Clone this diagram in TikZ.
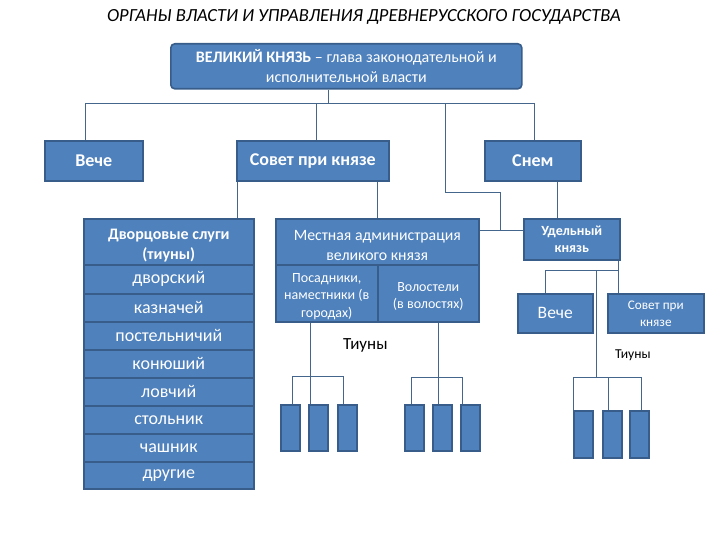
\documentclass[tikz,border=0pt]{standalone}
\usepackage{fontspec}
\setmainfont{Carlito}
\definecolor{boxfill}{HTML}{4F81BD}
\definecolor{boxline}{HTML}{385D8A}
\definecolor{wirecol}{HTML}{44668C}
\newcommand\mydown[1]{\rule{0pt}{#1}}
\begin{document}
\begin{tikzpicture}[x=1pt,y=-1pt,
  box/.style={draw=boxline, fill=boxfill, line width=1.6pt, text=white, inner sep=1pt, align=center, anchor=north west},
  wire/.style={draw=wirecol, line width=0.9pt},
  big/.style={font=\fontsize{18}{20}\selectfont},
  row/.style={font=\fontsize{18}{20}\selectfont},
  sml/.style={font=\fontsize{14}{17.5}\selectfont},
  tiun/.style={box, minimum width=19pt, minimum height=46pt}
]
\useasboundingbox (0,0) rectangle (720,540);
% title
\node[font=\fontsize{18.5}{20}\selectfont\itshape] (title) at (364,17) {ОРГАНЫ ВЛАСТИ И УПРАВЛЕНИЯ ДРЕВНЕРУССКОГО ГОСУДАРСТВА};
% top box
\node[box, rounded corners=4pt, minimum width=351pt, minimum height=45pt, font=\fontsize{16}{20}\selectfont] (vk) at (170,43) {\textbf{ВЕЛИКИЙ КНЯЗЬ} – глава законодательной и\\исполнительной власти};
% second level
\node[box, big, minimum width=98pt, minimum height=40pt] (veche) at (44,140) {\textbf{Вече}};
\node[box, big, minimum width=152pt, minimum height=40pt] (sovet) at (236,140) {\textbf{Совет при князе}};
\node[box, big, minimum width=96pt, minimum height=40pt] (snem) at (484,140) {\textbf{Снем}};
% palace servants table
\node[box, font=\fontsize{16}{20}\selectfont, minimum width=170pt, minimum height=46pt] (d0) at (83,218) {\mydown{18pt}\textbf{Дворцовые слуги}\\\textbf{(тиуны)}};
\node[box, row, minimum width=170pt, minimum height=29pt] (d1) at (83,264) {дворский};
\node[box, row, minimum width=170pt, minimum height=28pt] (d2) at (83,293) {казначей};
\node[box, row, minimum width=170pt, minimum height=28pt] (d3) at (83,321) {постельничий};
\node[box, row, minimum width=170pt, minimum height=28pt] (d4) at (83,349) {конюший};
\node[box, row, minimum width=170pt, minimum height=28pt] (d5) at (83,377) {ловчий};
\node[box, row, minimum width=170pt, minimum height=28pt] (d6) at (83,405) {стольник};
\node[box, row, minimum width=170pt, minimum height=28pt] (d7) at (83,433) {чашник};
\node[box, row, minimum width=170pt, minimum height=27pt] (d8) at (83,461) {другие};
% local administration table
\node[box, font=\fontsize{15.8}{20}\selectfont, minimum width=203pt, minimum height=46pt] (m0) at (275,218) {\mydown{17pt}Местная администрация\\великого князя};
\node[box, sml, minimum width=102pt, minimum height=57pt] (m1) at (275,264) {\mydown{15pt}Посадники,\\наместники (в\\городах)};
\node[box, sml, minimum width=101pt, minimum height=57pt] (m2) at (377,264) {\mydown{15pt}Волостели\\(в волостях)};
% appanage prince
\node[box, font=\fontsize{14}{17}\selectfont, minimum width=96pt, minimum height=41pt] (udel) at (523,218) {\textbf{Удельный}\\\textbf{князь}};
\node[box, font=\fontsize{17.5}{20}\selectfont, minimum width=75pt, minimum height=39pt] (veche2) at (517,293) {Вече};
\node[box, font=\fontsize{13.2}{17}\selectfont, minimum width=96pt, minimum height=39pt] (sovet2) at (607,293) {Совет при\\князе};
% tiuny boxes
\node[tiun] (t1) at (280,404) {};
\node[tiun] (t2) at (308,404) {};
\node[tiun] (t3) at (337,404) {};
\node[tiun] (t4) at (404,404) {};
\node[tiun] (t5) at (432,404) {};
\node[tiun] (t6) at (460,404) {};
\node[tiun, minimum height=47pt] (t7) at (573,410) {};
\node[tiun, minimum height=47pt] (t8) at (602,410) {};
\node[tiun, minimum height=47pt] (t9) at (629,410) {};
% labels
\node[font=\fontsize{17}{19}\selectfont, anchor=west, inner sep=0pt] (lt1) at (343,345) {Тиуны};
\node[font=\fontsize{13.6}{16}\selectfont, anchor=west, inner sep=0pt] (lt2) at (615,355) {Тиуны};
% junction coordinates
\coordinate (j0) at (328,103);
\coordinate (b1) at (85,103);
\coordinate (b2) at (316,103);
\coordinate (b3) at (445,103);
\coordinate (b4) at (534,103);
\coordinate (k1) at (445,192);
\coordinate (k2) at (500,192);
\coordinate (k3) at (500,230);
\coordinate (s1) at (237,200);
\coordinate (s2) at (377,200);
\coordinate (n1) at (557,200);
\coordinate (u1) at (618,270);
\coordinate (u2) at (545,270);
\coordinate (u3) at (596,270);
\coordinate (g1) at (310,376);
\coordinate (g1l) at (292,376);
\coordinate (g1r) at (343,376);
\coordinate (g2) at (438,377);
\coordinate (g2l) at (411,377);
\coordinate (g2r) at (462,377);
\coordinate (g3) at (596,377);
\coordinate (g3l) at (573,377);
\coordinate (g3m) at (608,377);
\coordinate (g3r) at (641,377);
% connectors
\draw[wire] (vk.south -| j0) -- (j0);
\draw[wire] (b1) -- (b4);
\draw[wire] (b1) -- (b1 |- veche.north);
\draw[wire] (b2) -- (b2 |- sovet.north);
\draw[wire] (b4) -- (b4 |- snem.north);
\draw[wire] (b3) -- (k1) -- (k2) -- (k3);
\draw[wire] (m0.east |- k3) -- (udel.west |- k3);
\draw[wire] (sovet.south -| s1) -- (s1 |- d0.north);
\draw[wire] (sovet.south -| s2) -- (s2 |- m0.north);
\draw[wire] (snem.south -| n1) -- (n1 |- udel.north);
\draw[wire] (udel.south -| u1) -- (u1 |- sovet2.north);
\draw[wire] (u2) -- (u1);
\draw[wire] (u2) -- (u2 |- veche2.north);
\draw[wire] (u3) -- (g3);
\draw[wire] (m1.south -| g1) -- (g1);
\draw[wire] (g1l) -- (g1r);
\draw[wire] (g1l) -- (g1l |- t1.north);
\draw[wire] (g1) -- (g1 |- t2.north);
\draw[wire] (g1r) -- (g1r |- t3.north);
\draw[wire] (m2.south -| g2) -- (g2);
\draw[wire] (g2l) -- (g2r);
\draw[wire] (g2l) -- (g2l |- t4.north);
\draw[wire] (g2) -- (g2 |- t5.north);
\draw[wire] (g2r) -- (g2r |- t6.north);
\draw[wire] (g3l) -- (g3r);
\draw[wire] (g3l) -- (g3l |- t7.north);
\draw[wire] (g3m) -- (g3m |- t8.north);
\draw[wire] (g3r) -- (g3r |- t9.north);
\end{tikzpicture}
\end{document}
